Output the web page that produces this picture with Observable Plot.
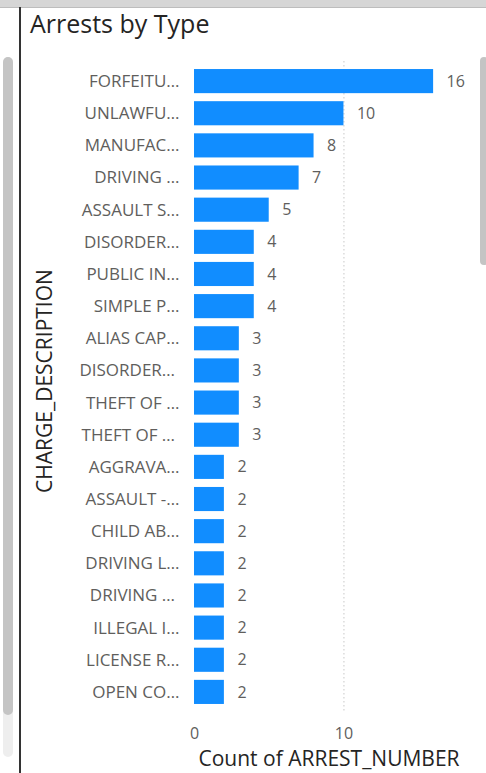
<!DOCTYPE html>
<html>
<head>
<meta charset="utf-8">
<script src="https://cdn.jsdelivr.net/npm/d3@7"></script>
<script src="https://cdn.jsdelivr.net/npm/@observablehq/plot@0.6"></script>
<style>
  html, body { margin: 0; padding: 0; background: #fff; }
  body { width: 486px; height: 773px; position: relative; overflow: hidden; font-family: "Open Sans", "Noto Sans", sans-serif; }
  #topbar { position: absolute; left: 0; top: 0; width: 486px; height: 7px; background: #d6d6d6; border-bottom: 1px solid #bdbdbd; }
  #border { position: absolute; left: 19px; top: 7px; width: 2px; height: 766px; background: #333; }
  #ltrack { position: absolute; left: 3px; top: 57px; width: 10px; height: 700px; background: #eeeeee; border-radius: 5px; }
  #lscroll { position: absolute; left: 3px; top: 57px; width: 10px; height: 658px; background: #c4c4c4; border-radius: 5px; }
  #rscroll { position: absolute; left: 480px; top: 57px; width: 8px; height: 208px; background: #c4c4c4; border-radius: 4px; }
  #title { position: absolute; left: 30px; top: 11px; font-size: 25px; line-height: 25px; color: #252423; font-family: "Open Sans", sans-serif; white-space: nowrap; }
  #chart { position: absolute; left: 0; top: 45px; }
</style>
</head>
<body>
<div id="topbar"></div>
<div id="border"></div>
<div id="ltrack"></div>
<div id="lscroll"></div>
<div id="rscroll"></div>
<div id="title">Arrests by Type</div>
<div id="chart"></div>
<script>
const categories = [
  "FORFEITU…", "UNLAWFU…", "MANUFAC…", "DRIVING …", "ASSAULT S…",
  "DISORDER…", "PUBLIC IN…", "SIMPLE P…", "ALIAS CAP…", "DISORDER… ",
  "THEFT OF …", "THEFT OF … ", "AGGRAVA…", "ASSAULT -…", "CHILD AB…",
  "DRIVING L…", "DRIVING … ", "ILLEGAL I…", "LICENSE R…", "OPEN CO…"
];
const counts = [16, 10, 8, 7, 5, 4, 4, 4, 3, 3, 3, 3, 2, 2, 2, 2, 2, 2, 2, 2];
const xTicks = [0, 10];
const xTitle = "Count of ARREST_NUMBER";
const yTitle = "CHARGE_DESCRIPTION";

const data = categories.map((c, i) => ({category: c, count: counts[i]}));

const chart = Plot.plot({
  width: 486,
  height: 728,
  marginLeft: 194,
  marginRight: 23,
  marginTop: 16,
  marginBottom: 61,
  style: {fontFamily: "'Open Sans', 'Noto Sans', sans-serif", background: "transparent", overflow: "visible"},
  x: {domain: [0, 18]},
  y: {domain: categories, padding: 0.25, round: false},
  marks: [
    Plot.gridX(xTicks.filter(d => d > 0), {stroke: "#c8c8c8", strokeOpacity: 1, strokeDasharray: "1.5,2.5"}),
    Plot.barX(data, {x: "count", y: "category", fill: "#118DFF"}),
    Plot.text(data, {x: "count", y: "category", text: d => String(d.count), dx: 13, textAnchor: "start", fill: "#605e5c", fontSize: 16}),
    Plot.axisY({tickSize: 0, tickPadding: 15, fontSize: 17, color: "#605e5c", label: null}),
    Plot.axisX({ticks: xTicks, tickSize: 0, tickPadding: 15, fontSize: 16, color: "#605e5c", tickFormat: d => String(d), label: null}),
    Plot.text([xTitle], {frameAnchor: "bottom", dy: 53, fontSize: 21, fill: "#252423"}),
    Plot.text([yTitle], {frameAnchor: "left", textAnchor: "middle", rotate: -90, dx: -149, dy: -6, fontSize: 21, fill: "#252423"})
  ]
});
document.getElementById("chart").appendChild(chart);
</script>
</body>
</html>
